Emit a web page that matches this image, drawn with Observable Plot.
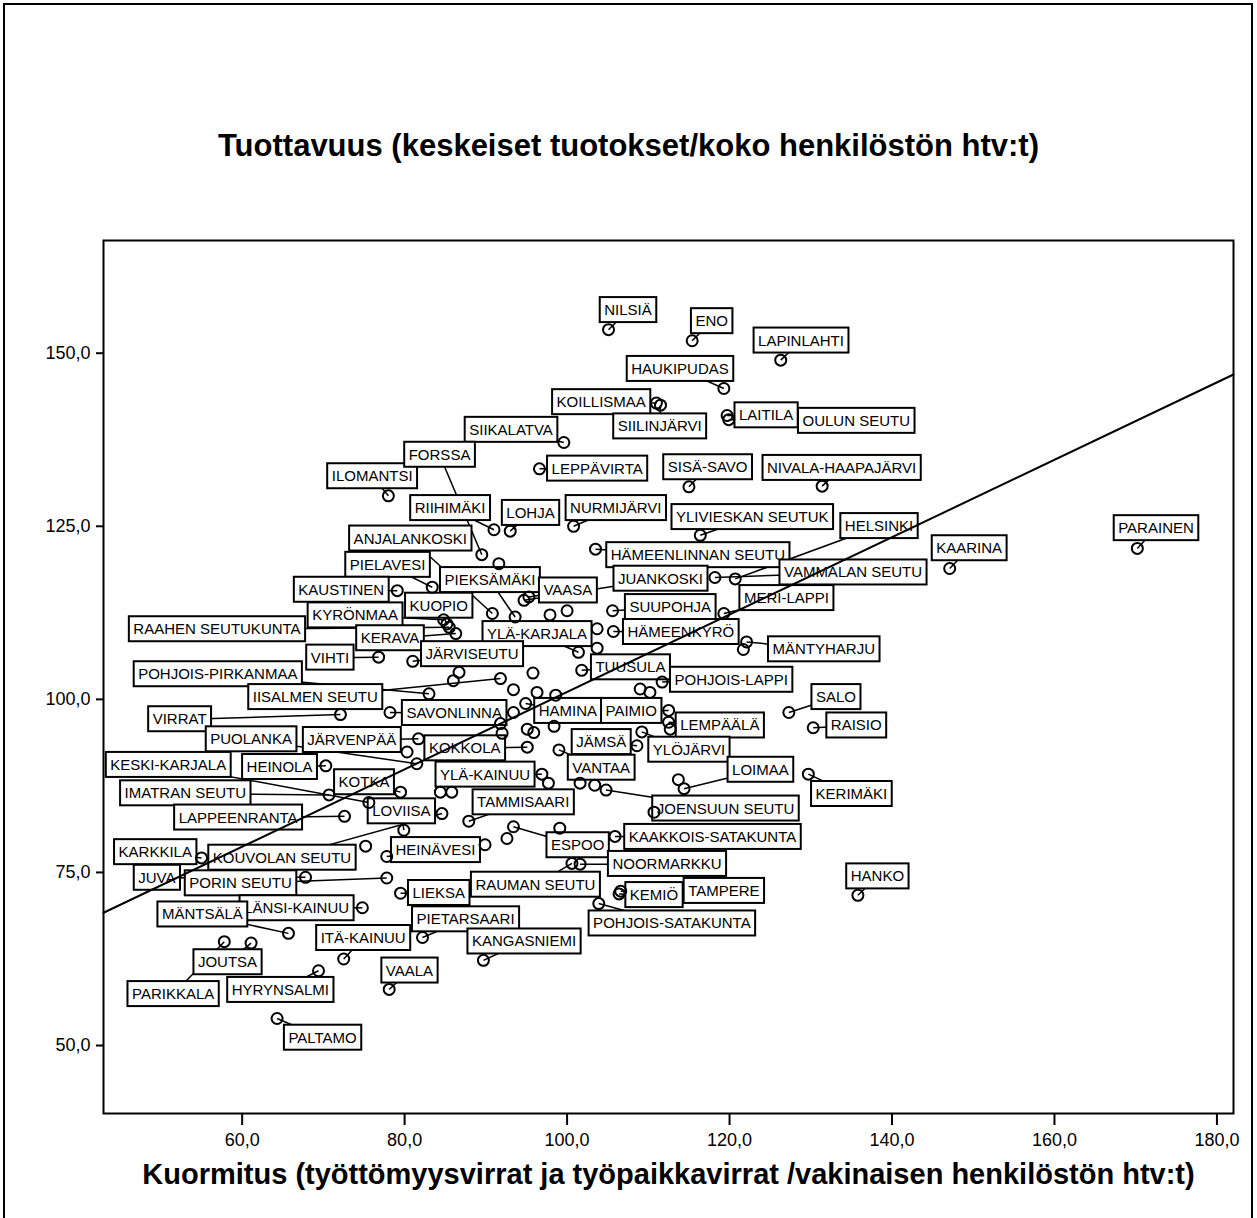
<!DOCTYPE html>
<html><head><meta charset="utf-8">
<script src="https://cdn.jsdelivr.net/npm/d3@7"></script>
<script src="https://cdn.jsdelivr.net/npm/@observablehq/plot@0.6"></script>
<style>
body{margin:0;background:#fff;}
#wrap{position:relative;width:1257px;height:1218px;overflow:hidden;font-family:Arial,"Liberation Sans",sans-serif;background:#fff;}
#border{position:absolute;left:3px;top:3px;width:1250px;height:1240px;border:2px solid #000;box-sizing:border-box;}
.ttl{position:absolute;left:0;width:1257px;text-align:center;font-weight:bold;color:#000;white-space:nowrap;}
#title{top:130px;font-size:31px;line-height:31px;}
#xtitle{top:1160px;left:40px;font-size:29px;line-height:29px;}
#chart{position:absolute;left:0;top:0;}
</style></head>
<body>
<div id="wrap">
  <div id="border"></div>
  <div id="chart"></div>
  <div class="ttl" id="title">Tuottavuus (keskeiset tuotokset/koko henkilöstön htv:t)</div>
  <div class="ttl" id="xtitle">Kuormitus (työttömyysvirrat ja työpaikkavirrat /vakinaisen henkilöstön htv:t)</div>
</div>
<script>
// ---- data ----
const names = ["NILSIÄ","ENO","LAPINLAHTI","HAUKIPUDAS","KOILLISMAA","SIILINJÄRVI","LAITILA","OULUN SEUTU","SIIKALATVA","LEPPÄVIRTA","SISÄ-SAVO","NIVALA-HAAPAJÄRVI","ILOMANTSI","FORSSA","RIIHIMÄKI","LOHJA","NURMIJÄRVI","YLIVIESKAN SEUTUK","HELSINKI","ANJALANKOSKI","PIELAVESI","KAUSTINEN","PIEKSÄMÄKI","HÄMEENLINNAN SEUTU","JUANKOSKI","VAMMALAN SEUTU","VAASA","KUOPIO","KYRÖNMAA","RAAHEN SEUTUKUNTA","KERAVA","YLÄ-KARJALA","VIHTI","JÄRVISEUTU","SUUPOHJA","HÄMEENKYRÖ","MERI-LAPPI","MÄNTYHARJU","TUUSULA","POHJOIS-LAPPI","POHJOIS-PIRKANMAA","IISALMEN SEUTU","SAVONLINNA","VIRRAT","SALO","RAISIO","HAMINA","PAIMIO","LEMPÄÄLÄ","PUOLANKA","JÄRVENPÄÄ","KOKKOLA","JÄMSÄ","YLÖJÄRVI","VANTAA","KESKI-KARJALA","HEINOLA","KOTKA","YLÄ-KAINUU","IMATRAN SEUTU","LOVIISA","LAPPEENRANTA","TAMMISAARI","LOIMAA","KERIMÄKI","JOENSUUN SEUTU","KARKKILA","KOUVOLAN SEUTU","HEINÄVESI","ESPOO","KAAKKOIS-SATAKUNTA","NOORMARKKU","JUVA","PORIN SEUTU","LIEKSA","RAUMAN SEUTU","LÄNSI-KAINUU","MÄNTSÄLÄ","PIETARSAARI","KEMIÖ","TAMPERE","POHJOIS-SATAKUNTA","HANKO","ITÄ-KAINUU","KANGASNIEMI","JOUTSA","PARIKKALA","HYRYNSALMI","VAALA","PALTAMO","KAARINA","PARAINEN"];
// Kuormitus (x) of each named unit
const kuormitus = [105.1,115.4,126.3,119.3,111.0,111.5,119.7,119.9,99.6,96.6,115.0,131.4,78.0,89.5,91.0,93.0,100.8,116.4,120.7,90.8,83.4,79.1,93.6,103.5,94.7,118.2,95.3,85.2,84.8,85.5,86.3,101.4,76.8,81.0,105.6,105.7,119.3,122.1,101.8,111.7,83.0,91.8,78.2,72.1,127.3,130.3,94.9,112.5,112.5,81.5,81.7,95.1,108.6,109.2,99.0,75.6,70.3,79.5,96.9,70.7,79.9,72.6,87.9,114.4,129.7,104.8,55.0,84.6,77.8,93.4,105.9,101.6,67.8,77.8,79.5,100.6,74.8,65.7,82.2,106.4,106.6,103.9,135.8,72.5,89.7,61.1,57.8,69.4,78.1,64.3,147.1,170.2];
// Tuottavuus (y) of each named unit
const tuottavuus = [153.4,151.8,149.0,144.9,142.8,142.5,141.0,140.4,137.1,133.3,130.7,130.8,129.4,120.9,124.5,124.3,125.0,123.7,117.4,112.4,116.2,115.7,111.9,121.7,114.3,117.6,114.8,110.9,111.5,110.4,109.5,106.8,106.1,105.5,112.8,109.8,112.4,108.3,104.2,102.5,100.8,103.0,98.1,97.8,98.1,95.9,99.4,98.4,96.7,90.7,94.3,93.1,93.3,95.3,92.7,85.1,90.4,86.6,89.2,86.2,81.1,83.1,82.4,87.1,89.2,86.9,77.1,83.5,77.3,81.6,80.2,76.2,74.3,74.2,72.0,76.3,69.9,66.2,65.6,71.9,72.3,70.5,71.7,62.5,62.3,64.8,65.0,60.8,58.1,53.9,118.9,121.8];
// label anchor of each named unit (data units)
const labelKx = [107.5,117.8,128.8,113.9,104.2,111.4,124.5,135.6,93.1,103.7,117.3,133.8,76.0,84.3,85.6,95.5,106.0,122.8,138.4,80.7,77.9,72.2,90.5,116.1,111.5,135.2,100.1,84.2,73.9,56.9,78.2,96.3,70.8,88.3,112.7,114.0,127.0,131.6,107.8,120.2,57.0,69.0,86.1,52.3,133.1,135.6,100.1,107.9,118.8,61.1,73.5,87.4,104.2,115.0,104.2,50.9,64.6,75.0,89.9,53.0,79.6,59.5,94.6,123.8,135.0,119.5,49.3,64.9,83.8,101.3,117.9,112.3,49.5,59.8,84.2,96.1,66.7,55.1,87.5,110.7,119.3,112.9,138.2,74.9,94.7,58.2,51.5,64.7,80.6,69.9,149.5,172.5];
const labelTy = [156.2,154.6,151.8,147.7,142.9,139.4,141.0,140.2,138.9,133.3,133.5,133.4,132.2,135.3,127.6,126.9,127.6,126.3,125.0,123.2,119.4,115.8,117.2,120.8,117.4,118.3,115.7,113.5,112.1,110.1,108.8,109.4,106.0,106.5,113.3,109.7,114.6,107.2,104.6,102.8,103.6,100.3,98.0,97.1,100.3,96.2,98.3,98.3,96.2,94.2,94.1,92.9,93.8,92.7,90.1,90.5,90.2,88.0,89.1,86.4,83.8,82.9,85.1,89.8,86.3,84.2,77.9,77.1,78.2,78.9,80.1,76.2,74.2,73.4,72.0,73.2,69.8,68.9,68.2,71.7,72.3,67.6,74.4,65.5,65.0,62.0,57.4,58.0,60.8,51.1,121.8,124.7];
// unlabeled units
const otherKx = [91.6,100.0,97.9,103.7,103.7,95.8,86.0,86.7,93.4,96.3,98.6,93.4,92.0,95.1,95.9,98.4,109.0,110.2,112.7,84.4,85.8,89.9,92.6,75.2,97.7,101.6,103.4,110.7,99.1,113.7,121.7,91.8,80.3];
const otherTy = [119.6,112.8,112.2,110.2,107.4,103.8,102.7,103.9,101.4,101.0,100.6,98.1,95.1,95.7,95.2,96.1,101.5,101.0,95.7,86.6,86.6,79.0,79.9,78.8,87.9,87.9,87.6,83.7,81.4,88.4,107.2,96.5,92.4];
// fit line (linear regression as shown)
const fitIntercept = 45.18, fitSlope = 0.5589;
const xDomain = [42.93, 182.04], yDomain = [40.18, 166.28];
const xTicks = [60,80,100,120,140,160,180], yTicks = [50,75,100,125,150];

// ---- build ----
const labeled = names.map((n,i)=>({name:n, x:kuormitus[i], y:tuottavuus[i], lx:labelKx[i], ly:labelTy[i]}));
const allPts = labeled.map(d=>({x:d.x,y:d.y})).concat(otherKx.map((x,i)=>({x, y:otherTy[i]})));
const fit = xDomain.map(x=>({x, y: fitIntercept + fitSlope*x}));
const fmt = d => d.toFixed(1).replace(".", ",");

const plot = Plot.plot({
  width: 1257, height: 1218,
  marginLeft: 103, marginRight: 24, marginTop: 240, marginBottom: 105,
  x: {domain: xDomain}, y: {domain: yDomain},
  style: {fontFamily: "Arial, 'Liberation Sans', sans-serif", fontSize: "18px", background: "transparent", color: "black", overflow: "visible"},
  marks: [
    Plot.axisX({ticks: xTicks, tickSize: 12, tickPadding: 8, tickFormat: fmt, label: null, strokeWidth: 2, fontSize: 18}),
    Plot.axisY({ticks: yTicks, tickSize: 7, tickPadding: 6, tickFormat: fmt, label: null, strokeWidth: 2, fontSize: 18}),
    Plot.link(labeled, {x1: "x", y1: "y", x2: "lx", y2: "ly", stroke: "black", strokeWidth: 1.5}),
    Plot.text(labeled, {x: "lx", y: "ly", text: "name", fontSize: 15, fill: "black", lineAnchor: "middle", textAnchor: "middle"}),
    Plot.dot(allPts, {x: "x", y: "y", r: 5.5, stroke: "black", strokeWidth: 2, fill: "none"}),
    Plot.line(fit, {x: "x", y: "y", stroke: "black", strokeWidth: 2}),
    Plot.frame({stroke: "black", strokeWidth: 2})
  ]
});
document.getElementById("chart").append(plot);
const NS = "http://www.w3.org/2000/svg";
const nameSet = new Set(names);
Array.from(plot.querySelectorAll("text")).filter(t => nameSet.has(t.textContent)).forEach(t => {
  const b = t.getBBox();
  const r = document.createElementNS(NS, "rect");
  const tr = t.getAttribute("transform");
  if (tr) r.setAttribute("transform", tr);
  r.setAttribute("x", b.x - 4.5);
  r.setAttribute("y", b.y + b.height/2 - 12.5);
  r.setAttribute("width", b.width + 9);
  r.setAttribute("height", 25);
  r.setAttribute("fill", "white");
  r.setAttribute("stroke", "black");
  r.setAttribute("stroke-width", 2);
  t.parentNode.insertBefore(r, t);
});
</script>
</body></html>
